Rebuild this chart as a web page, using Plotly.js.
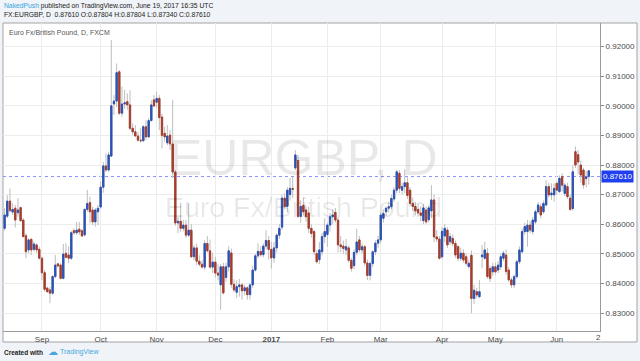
<!DOCTYPE html>
<html><head><meta charset="utf-8">
<script src="https://cdn.plot.ly/plotly-3.0.1.min.js"></script>
<style>html,body{margin:0;padding:0;background:#f0f3f7;}#chart{width:640px;height:361px;}</style>
</head><body><div id="chart"></div>
<script>
const openP = [
.8586,.8627,.8678,.8641,.8654,.8639,.8656,.8614,.8561,.8513,
.8549,.8515,.8530,.8515,.8485,.8436,.8384,.8378,.8367,.8423,
.8466,.8462,.8417,.8502,.8496,.8485,.8578,.8571,.8583,.8578,
.8564,.8650,.8673,.8648,.8608,.8642,.8658,.8725,.8797,.8783,
.8830,.9006,.9016,.9115,.8975,.9006,.9014,.9003,.8924,.8912,
.8898,.8884,.8882,.8929,.8895,.8950,.9020,.9012,.9025,.8962,
.8907,.8875,.8901,.8871,.8776,.8604,.8610,.8586,.8597,.8563,
.8580,.8490,.8520,.8475,.8465,.8455,.8535,.8510,.8455,.8472,
.8435,.8395,.8456,.8420,.8456,.8503,.8397,.8370,.8389,.8395,
.8375,.8385,.8362,.8395,.8445,.8493,.8508,.8497,.8526,.8545,
.8515,.8486,.8520,.8563,.8590,.8688,.8660,.8700,.8721,.8790,
.8815,.8626,.8664,.8648,.8638,.8586,.8575,.8501,.8480,.8507,
.8558,.8565,.8597,.8625,.8640,.8614,.8530,.8526,.8513,.8520,
.8478,.8460,.8505,.8547,.8513,.8524,.8469,.8427,.8467,.8507,
.8536,.8547,.8620,.8642,.8654,.8659,.8685,.8715,.8772,.8715,
.8727,.8740,.8715,.8670,.8660,.8650,.8638,.8612,.8648,.8615,
.8645,.8682,.8557,.8550,.8490,.8560,.8580,.8541,.8552,.8535,
.8524,.8485,.8502,.8490,.8457,.8495,.8349,.8372,.8355,.8490,
.8485,.8502,.8450,.8439,.8456,.8445,.8456,.8485,.8496,.8445,
.8412,.8395,.8423,.8473,.8507,.8575,.8575,.8597,.8575,.8608,
.8642,.8659,.8642,.8665,.8727,.8699,.8699,.8738,.8710,.8761,
.8704,.8727,.8688,.8653,.8845,.8835,.8800,.8783,.8754,.87804];
const highP = [
.8654,.8698,.8721,.8671,.8665,.8688,.8659,.8620,.8569,.8552,
.8552,.8541,.8535,.8524,.8490,.8445,.8389,.8389,.8428,.8496,
.8468,.8468,.8533,.8535,.8526,.8578,.8586,.8608,.8608,.8583,
.8654,.8716,.8693,.8659,.8654,.8665,.8744,.8811,.8839,.8845,
.9222,.9036,.9143,.9120,.9065,.9054,.9042,.9053,.8941,.8935,
.8912,.8924,.8935,.8952,.8958,.9019,.9036,.9047,.9036,.8973,
.8929,.8935,.8918,.9020,.8783,.8625,.8672,.8614,.8614,.8671,
.8600,.8530,.8535,.8495,.8478,.8546,.8560,.8548,.8502,.8490,
.8465,.8465,.8470,.8470,.8525,.8518,.8414,.8410,.8415,.8402,
.8395,.8390,.8400,.8460,.8500,.8535,.8525,.8535,.8580,.8560,
.8540,.8540,.8570,.8600,.8700,.8705,.8725,.8756,.8760,.8850,
.8835,.8681,.8690,.8659,.8659,.8600,.8580,.8512,.8540,.8570,
.8620,.8605,.8638,.8650,.8655,.8625,.8560,.8545,.8550,.8528,
.8485,.8515,.8585,.8560,.8535,.8530,.8480,.8475,.8510,.8545,
.8560,.8640,.8650,.8660,.8675,.8700,.8725,.8783,.8783,.8740,
.8785,.8760,.8725,.8690,.8675,.8668,.8660,.8668,.8660,.8662,
.8732,.8700,.8580,.8560,.8590,.8600,.8590,.8570,.8565,.8545,
.8530,.8520,.8515,.8500,.8480,.8512,.8395,.8385,.8411,.8530,
.8540,.8520,.8460,.8470,.8470,.8475,.8500,.8510,.8515,.8455,
.8420,.8430,.8480,.8525,.8585,.8605,.8614,.8610,.8625,.8650,
.8675,.8670,.8680,.8749,.8740,.8738,.8738,.8745,.8765,.8772,
.8740,.8740,.8700,.8800,.8862,.8850,.8815,.8790,.8780,.87804];
const lowP = [
.8578,.8620,.8639,.8631,.8589,.8625,.8608,.8556,.8485,.8502,
.8496,.8507,.8502,.8481,.8412,.8372,.8369,.8333,.8361,.8417,
.8454,.8414,.8414,.8485,.8468,.8479,.8564,.8564,.8564,.8558,
.8558,.8642,.8603,.8597,.8592,.8597,.8652,.8706,.8777,.8777,
.8827,.8969,.8996,.8969,.8963,.8990,.8986,.8918,.8901,.8896,
.8879,.8875,.8878,.8884,.8890,.8947,.8997,.8993,.8918,.8856,
.8879,.8867,.8851,.8756,.8594,.8570,.8573,.8576,.8553,.8556,
.8486,.8478,.8462,.8458,.8450,.8445,.8505,.8450,.8435,.8420,
.8410,.8310,.8362,.8405,.8440,.8385,.8370,.8350,.8355,.8345,
.8360,.8345,.8345,.8385,.8440,.8485,.8490,.8488,.8515,.8480,
.8450,.8470,.8505,.8550,.8580,.8650,.8640,.8680,.8688,.8783,
.8620,.8605,.8630,.8608,.8570,.8555,.8496,.8467,.8465,.8494,
.8536,.8524,.8575,.8600,.8605,.8505,.8505,.8500,.8495,.8470,
.8440,.8448,.8495,.8505,.8500,.8460,.8412,.8410,.8455,.8495,
.8520,.8535,.8605,.8628,.8640,.8650,.8675,.8705,.8705,.8700,
.8705,.8685,.8660,.8645,.8630,.8625,.8610,.8600,.8600,.8605,
.8620,.8540,.8540,.8480,.8482,.8540,.8520,.8530,.8525,.8485,
.8475,.8475,.8470,.8460,.8450,.8299,.8330,.8350,.8350,.8451,
.8480,.8415,.8405,.8425,.8430,.8435,.8445,.8475,.8430,.8405,
.8385,.8384,.8415,.8465,.8500,.8565,.8524,.8570,.8565,.8600,
.8635,.8620,.8635,.8660,.8690,.8682,.8676,.8700,.8705,.8710,
.8695,.8685,.8645,.8645,.8790,.8770,.8740,.8720,.8725,.87340];
const closeP = [
.8631,.8678,.8646,.8650,.8614,.8648,.8612,.8558,.8507,.8547,
.8513,.8533,.8513,.8485,.8436,.8380,.8372,.8367,.8423,.8462,
.8459,.8417,.8499,.8488,.8485,.8571,.8571,.8580,.8574,.8560,
.8650,.8670,.8642,.8608,.8648,.8654,.8725,.8797,.8783,.8834,
.9000,.9016,.9112,.8975,.9006,.9010,.9003,.8924,.8912,.8898,
.8884,.8882,.8929,.8895,.8950,.9003,.8999,.9025,.8960,.8900,
.8895,.8898,.8871,.8776,.8604,.8610,.8586,.8597,.8563,.8580,
.8490,.8520,.8475,.8465,.8455,.8535,.8510,.8455,.8472,.8435,
.8428,.8456,.8368,.8456,.8510,.8397,.8378,.8389,.8395,.8375,
.8385,.8362,.8395,.8445,.8493,.8508,.8497,.8526,.8545,.8515,
.8486,.8520,.8563,.8586,.8688,.8660,.8715,.8721,.8718,.8834,
.8626,.8660,.8642,.8625,.8586,.8569,.8507,.8473,.8513,.8558,
.8575,.8597,.8625,.8631,.8614,.8530,.8524,.8518,.8524,.8478,
.8451,.8505,.8540,.8513,.8524,.8469,.8427,.8467,.8507,.8536,
.8547,.8631,.8636,.8654,.8659,.8687,.8715,.8777,.8721,.8727,
.8740,.8697,.8670,.8660,.8645,.8638,.8630,.8655,.8608,.8655,
.8682,.8557,.8550,.8485,.8576,.8586,.8530,.8558,.8535,.8496,
.8485,.8502,.8479,.8468,.8468,.8349,.8377,.8361,.8372,.8496,
.8513,.8423,.8417,.8456,.8439,.8462,.8490,.8502,.8440,.8412,
.8395,.8423,.8473,.8513,.8575,.8592,.8597,.8580,.8614,.8642,
.8665,.8631,.8670,.8727,.8699,.8705,.8721,.8715,.8755,.8732,
.8732,.8693,.8650,.8777,.8800,.8810,.8766,.8733,.8760,.87610];
// candle body colour as drawn: b = blue, r = red
const bodyColor = [
'b','b','r','b','r','b','r','r','r','b',
'r','b','r','r','r','r','r','r','b','b',
'r','r','b','r','r','b','r','b','r','r',
'b','b','r','r','b','b','b','b','r','b',
'b','b','b','r','b','b','r','r','r','r',
'r','r','b','r','b','b','r','b','r','r',
'r','b','r','r','r','b','r','b','r','b',
'r','b','r','r','r','b','r','r','b','r',
'r','b','r','b','b','r','r','b','b','r',
'b','r','b','b','b','b','r','b','b','r',
'r','b','b','b','b','r','b','b','r','b',
'r','b','r','r','r','r','r','r','b','b',
'b','b','b','b','r','r','r','r','b','r',
'r','b','b','r','b','r','r','b','b','b',
'b','b','b','b','b','b','b','b','r','b',
'b','r','r','r','r','r','r','b','r','b',
'b','r','r','r','b','b','r','b','r','r',
'r','b','r','r','b','r','b','r','b','b',
'b','r','r','b','r','b','b','b','r','r',
'r','b','b','b','b','b','b','r','b','b',
'b','r','b','b','r','b','b','r','b','r',
'b','r','r','b','r','r','r','r','b','b'];
const firstDay = '2016-08-12', lastDay = '2017-06-19';
const closedDays = ['2016-12-26','2017-01-02'];
const monthLabels = ['Sep','Oct','Nov','Dec','<b>2017</b>','Feb','Mar','Apr','May','Jun'];
const priceTicks = [0.83,0.84,0.85,0.86,0.87,0.88,0.89,0.90,0.91,0.92];

// trading-day calendar (weekdays without closed days)
const dates = [];
for (let t = Date.parse(firstDay+'T00:00:00Z'); t <= Date.parse(lastDay+'T00:00:00Z'); t += 86400000) {
  const d = new Date(t), s = d.toISOString().slice(0,10), wd = d.getUTCDay();
  if (wd >= 1 && wd <= 5 && closedDays.indexOf(s) < 0) dates.push(s);
}
const monthStarts = [];
for (let i = 1; i < dates.length; i++) if (dates[i].slice(0,7) !== dates[i-1].slice(0,7)) monthStarts.push(dates[i]);

const BLUE = '#2c52b4', RED = '#a63d2d', WICK = '#bdbdbd';
const bO = [], bC = [], bH = [], bL = [];
for (let i = 0; i < dates.length; i++) {
  const lo = Math.min(openP[i], closeP[i]), hi = Math.max(openP[i], closeP[i]);
  bH.push(hi); bL.push(lo);
  if (bodyColor[i] === 'b') { bO.push(lo); bC.push(hi); } else { bO.push(hi); bC.push(lo); }
}
const N = dates.length - 1;
const lastClose = closeP[N];

const F = 'Liberation Sans, Arial, sans-serif';
const px = (x) => (x - 3) / 597, py = (y) => (331 - y) / 308;

const traces = [
  {type:'candlestick', x:dates, open:openP, high:highP, low:lowP, close:closeP,
   increasing:{line:{color:WICK,width:1},fillcolor:WICK}, decreasing:{line:{color:WICK,width:1},fillcolor:WICK},
   whiskerwidth:0, hoverinfo:'skip'},
  {type:'candlestick', x:dates, open:bO, high:bH, low:bL, close:bC,
   increasing:{line:{color:BLUE,width:1},fillcolor:BLUE}, decreasing:{line:{color:RED,width:1},fillcolor:RED},
   whiskerwidth:0, hoverinfo:'skip'}
];

const f5 = (v) => v.toFixed(5);
const layout = {
  width:640, height:361, margin:{l:3,r:40,t:23,b:30},
  paper_bgcolor:'#f0f3f7', plot_bgcolor:'#ffffff', showlegend:false, hovermode:false,
  xaxis:{type:'category', range:[-0.6,223.2], tickvals:monthStarts, ticktext:monthLabels,
    showgrid:true, gridcolor:'#ececec', gridwidth:1, showline:true, linecolor:'#9a9a9a', linewidth:1,
    ticks:'', tickfont:{family:F,size:8,color:'#4a4a4a'}, rangeslider:{visible:false}, fixedrange:true},
  yaxis:{side:'right', range:[0.82392,0.92797], tickvals:priceTicks, tickformat:'.5f',
    ticks:'outside', ticklen:3, tickcolor:'#8a8a8a', showline:true, linecolor:'#9a9a9a', linewidth:1,
    gridcolor:'#ececec', zeroline:false, tickfont:{family:F,size:8,color:'#4a4a4a'}, fixedrange:true},
  shapes:[
    {type:'rect', xref:'paper', yref:'paper', x0:0, x1:px(637), y0:py(342), y1:1,
     fillcolor:'#ffffff', line:{color:'#a3a3a3',width:1}, layer:'below'},
    {type:'line', xref:'paper', yref:'y', x0:0, x1:1, y0:lastClose, y1:lastClose,
     line:{color:'#8f8fff',width:1,dash:'dot'}, layer:'below'}
  ],
  annotations:[
    {xref:'paper',yref:'paper',x:px(303),y:py(158),text:'EURGBP, D',showarrow:false,
     font:{family:F,size:50,color:'rgba(0,0,0,0.09)'}},
    {xref:'paper',yref:'paper',x:px(303),y:py(207),text:'Euro Fx/British Pound',showarrow:false,
     font:{family:F,size:28.5,color:'rgba(0,0,0,0.09)'}},
    {xref:'paper',yref:'paper',x:px(2),y:py(6),xanchor:'left',yanchor:'middle',showarrow:false,
     text:'<span style="color:#37a6de">NakedPush</span> published on TradingView.com, June 19, 2017 16:35 UTC',
     font:{family:F,size:6.75,color:'#222'}},
    {xref:'paper',yref:'paper',x:px(2),y:py(15),xanchor:'left',yanchor:'middle',showarrow:false,
     text:'FX:EURGBP, D  '+f5(closeP[N])+' O:'+f5(openP[N])+' H:'+f5(highP[N])+' L:'+f5(lowP[N])+' C:'+f5(closeP[N]),
     font:{family:F,size:6.75,color:'#222'}},
    {xref:'paper',yref:'paper',x:px(7),y:py(33),xanchor:'left',yanchor:'middle',showarrow:false,
     text:'Euro Fx/British Pound, D, FXCM', font:{family:F,size:7,color:'#555'}},
    {xref:'paper',yref:'y',x:px(601),y:lastClose,xanchor:'left',yanchor:'middle',showarrow:false,
     text:f5(lastClose), bgcolor:'#1f3ff0', borderpad:1, font:{family:F,size:8,color:'#ffffff'}},
    {xref:'paper',yref:'paper',x:px(598),y:py(337),xanchor:'center',yanchor:'middle',showarrow:false,
     text:'2', font:{family:F,size:8,color:'#4a4a4a'}},
    {xref:'paper',yref:'paper',x:px(2),y:py(352),xanchor:'left',yanchor:'middle',showarrow:false,
     text:'<b>Created with</b>', font:{family:F,size:6.5,color:'#222'}},
    {xref:'paper',yref:'paper',x:px(46),y:py(351),xanchor:'left',yanchor:'middle',showarrow:false,
     text:'☁', font:{family:'DejaVu Sans',size:10,color:'#45a8de'}},
    {xref:'paper',yref:'paper',x:px(58),y:py(352),xanchor:'left',yanchor:'middle',showarrow:false,
     text:'TradingView', font:{family:F,size:7,color:'#45a8de'}}
  ]
};
Plotly.newPlot('chart', traces, layout, {displayModeBar:false, staticPlot:true});
</script></body></html>
